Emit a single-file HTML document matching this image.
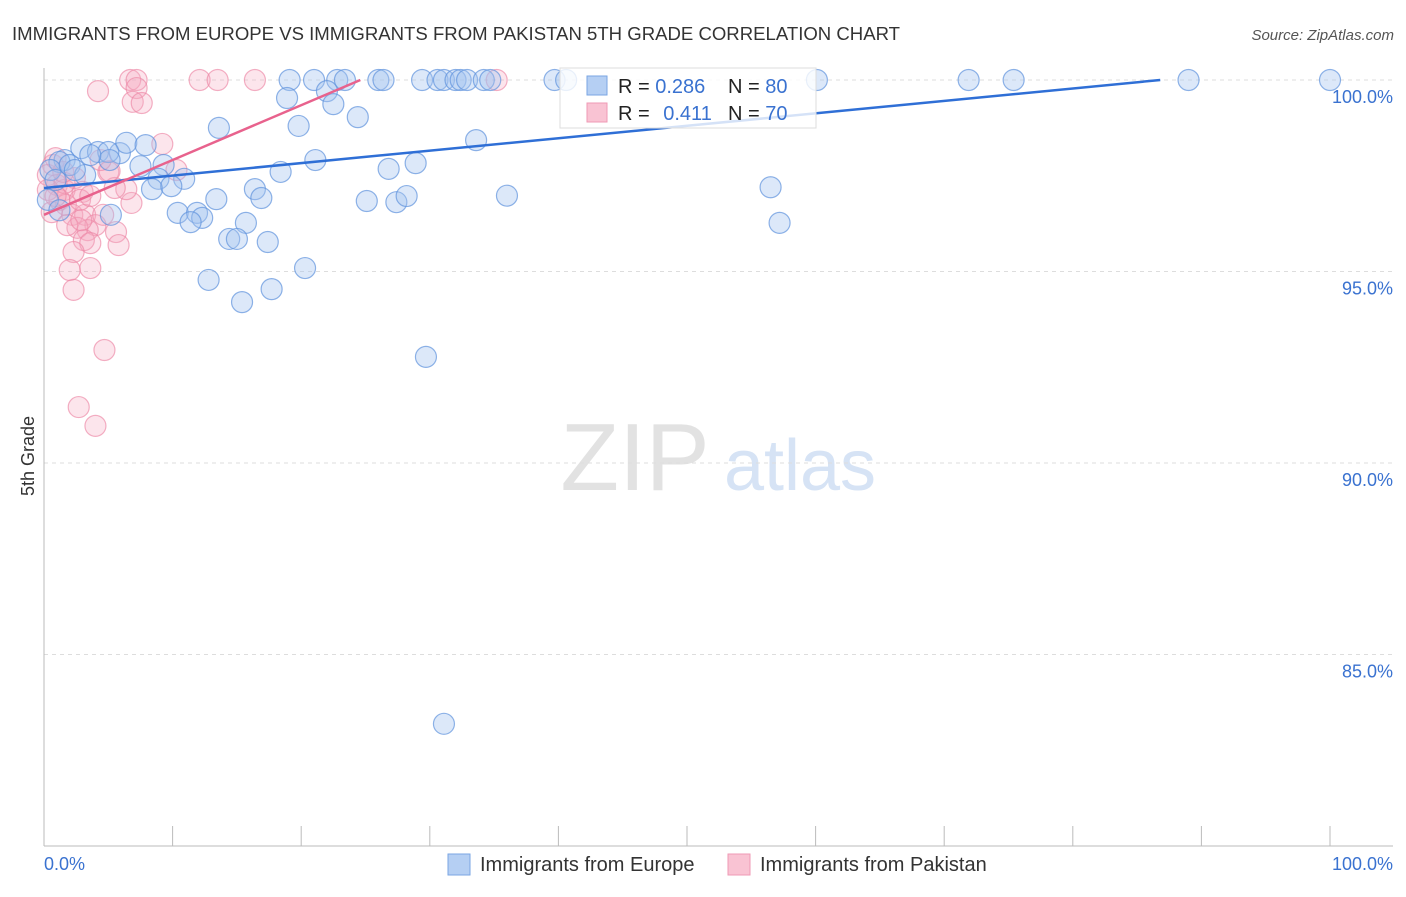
<!DOCTYPE html>
<html><head><meta charset="utf-8"><style>
html,body{margin:0;padding:0;background:#fff;}
body{width:1406px;height:892px;overflow:hidden;font-family:"Liberation Sans",sans-serif;}
svg text{font-family:"Liberation Sans",sans-serif;}
</style></head><body>
<svg id="chart" width="1406" height="892" xmlns="http://www.w3.org/2000/svg">
<text x="12" y="40" font-size="18" fill="#333" textLength="888" lengthAdjust="spacingAndGlyphs">IMMIGRANTS FROM EUROPE VS IMMIGRANTS FROM PAKISTAN 5TH GRADE CORRELATION CHART</text>
<text x="1394" y="40" font-size="15" fill="#555" font-style="italic" text-anchor="end">Source: ZipAtlas.com</text>
<text x="34" y="456" font-size="18" fill="#333" text-anchor="middle" transform="rotate(-90 34 456)">5th Grade</text>
<g>
<text x="635" y="490" font-size="96" fill="#e2e2e2" font-family="Liberation Serif,serif" text-anchor="middle">ZIP</text>
<text x="800" y="490" font-size="72" fill="#d6e3f5" text-anchor="middle">atlas</text>
</g>
<g id="grid"></g>
<g id="axes"></g>
<g id="pts"></g>
<g id="lines"></g>
<g>
<rect x="560" y="68" width="256" height="60" fill="#fff" fill-opacity="0.8" stroke="#ddd"/>
<rect x="587" y="76" width="20" height="19" fill="#b5cff3" stroke="#7aa6e3"/>
<rect x="587" y="103" width="20" height="19" fill="#f9c3d3" stroke="#ef9ab4"/>
<text x="618" y="93" font-size="20" fill="#222">R = <tspan fill="#3a72d0">0.286</tspan></text>
<text x="728" y="93" font-size="20" fill="#222">N = <tspan fill="#3a72d0">80</tspan></text>
<text x="618" y="120" font-size="20" fill="#222">R = <tspan fill="#3a72d0" dx="8">0.411</tspan></text>
<text x="728" y="120" font-size="20" fill="#222">N = <tspan fill="#3a72d0">70</tspan></text>
</g>
<g>
<rect x="448" y="854" width="22" height="21" fill="#b5cff3" stroke="#7aa6e3"/>
<text x="480" y="871" font-size="20" fill="#333">Immigrants from Europe</text>
<rect x="728" y="854" width="22" height="21" fill="#f9c3d3" stroke="#ef9ab4"/>
<text x="760" y="871" font-size="20" fill="#333">Immigrants from Pakistan</text>
</g>
</svg>
<script>
const yTicks=[100,95,90,85];
const yTickLabels=["100.0%","95.0%","90.0%","85.0%"];
const xTickLabels=["0.0%","100.0%"];
const blueX=[19.1,21.0,22.8,23.4,26.0,26.4,29.4,30.6,31.1,32.0,32.4,32.9,34.2,34.7,39.7,40.6,60.1,71.9,75.4,89.0,100,18.9,22.0,22.5,19.8,13.6,24.4,33.6,2.9,4.2,5.9,6.4,7.9,5.0,1.6,1.2,7.5,9.3,21.1,18.4,26.8,28.9,10.9,8.9,8.4,9.9,16.4,16.9,13.4,25.1,27.4,28.2,36.0,56.5,57.2,10.4,11.9,12.3,11.4,15.7,5.2,14.4,15.0,17.4,20.3,12.8,15.4,17.7,29.7,31.1,0.5,0.9,2.0,3.2,0.3,1.2,2.4,5.1,3.6];
const blueY=[100,100,100,100,100,100,100,100,100,100,100,100,100,100,100,100,100,100,100,100,100,99.53,99.71,99.37,98.8,98.75,99.03,98.43,98.22,98.12,98.09,98.36,98.3,98.12,97.91,97.86,97.75,97.78,97.91,97.6,97.68,97.83,97.42,97.42,97.15,97.23,97.15,96.92,96.89,96.84,96.81,96.97,96.98,97.2,96.27,96.53,96.53,96.4,96.29,96.27,96.48,95.85,95.85,95.77,95.09,94.78,94.2,94.54,92.77,83.19,97.65,97.39,97.78,97.52,96.87,96.6,97.65,97.91,98.04];
const pinkX=[6.7,7.2,12.1,13.5,16.4,35.2,4.2,7.2,6.9,7.6,9.2,5.0,0.7,0.3,1.0,1.6,2.4,3.0,1.2,1.7,2.2,3.2,4.0,3.4,2.6,3.1,3.6,2.3,2.0,3.6,2.3,4.7,2.7,4.0,5.6,5.8,6.8,6.4,5.5,4.6,5.1,4.4,10.3,0.3,0.6,1.6,2.8,3.6,0.9,1.5,0.9,1.8,2.9];
const pinkY=[100,100,100,100,100,100,99.71,99.79,99.43,99.4,98.33,97.6,97.78,97.52,97.26,97.13,97.44,97.08,96.87,96.74,96.48,96.48,96.21,96.08,96.14,95.82,95.74,95.51,95.04,95.09,94.52,92.95,91.46,90.97,96.03,95.69,96.79,97.15,97.18,96.48,97.62,97.91,97.65,97.13,96.55,97.31,96.87,96.97,97.96,97.6,96.97,96.21,96.34];
const blueLine=[[0,97.18],[86.8,100]];
const pinkLine=[[0,96.48],[24.6,100]];
const X0=44,X1=1330,Y100=80,PXPER=38.3;
const sx=v=>X0+(X1-X0)*v/100;
const sy=v=>Y100+(100-v)*PXPER;
const NS="http://www.w3.org/2000/svg";
function mk(tag,attrs,parent){const e=document.createElementNS(NS,tag);for(const k in attrs)e.setAttribute(k,attrs[k]);parent.appendChild(e);return e;}
const grid=document.getElementById('grid'),axes=document.getElementById('axes'),pts=document.getElementById('pts'),lines=document.getElementById('lines');
yTicks.forEach((t,i)=>{
 const l=mk('line',{x1:X0,x2:1393,y1:sy(t),y2:sy(t),stroke:'#ddd','stroke-dasharray':'4,4'},grid);
 
 
 const tx=mk('text',{x:1393,y:sy(t)+23,'font-size':18,fill:'#3a72d0','text-anchor':'end'},axes);
 tx.textContent=yTickLabels[i];
 
 
});
const ya=mk('line',{x1:X0,x2:X0,y1:68,y2:846,stroke:'#bbb'},axes);


const xa=mk('line',{x1:X0,x2:1393,y1:846,y2:846,stroke:'#bbb'},axes);


for(let i=1;i<=10;i++){
 const tk=mk('line',{x1:sx(i*10),x2:sx(i*10),y1:826,y2:846,stroke:'#bbb'},axes);
 
 
}
const xl0=mk('text',{x:X0,y:870,'font-size':18,fill:'#3a72d0'},axes);xl0.textContent=xTickLabels[0];


const xl1=mk('text',{x:1393,y:870,'font-size':18,fill:'#3a72d0','text-anchor':'end'},axes);xl1.textContent=xTickLabels[1];


pinkX.forEach((v,i)=>{
 const c=mk('circle',{cx:sx(v),cy:sy(pinkY[i]),r:10.5,fill:'#f6a8bf','fill-opacity':0.3,stroke:'#ec86a5','stroke-opacity':0.65,'stroke-width':1.2},pts);
 
 
});
blueX.forEach((v,i)=>{
 const c=mk('circle',{cx:sx(v),cy:sy(blueY[i]),r:10.5,fill:'#a4c3ef','fill-opacity':0.38,stroke:'#5f93dd','stroke-opacity':0.7,'stroke-width':1.2},pts);
 
 
});
const bl=mk('line',{x1:sx(blueLine[0][0]),y1:sy(blueLine[0][1]),x2:sx(blueLine[1][0]),y2:sy(blueLine[1][1]),stroke:'#2f6fd6','stroke-width':2.5},lines);


const pl=mk('line',{x1:sx(pinkLine[0][0]),y1:sy(pinkLine[0][1]),x2:sx(pinkLine[1][0]),y2:sy(pinkLine[1][1]),stroke:'#e8628d','stroke-width':2.5},lines);


</script>
</body></html>
